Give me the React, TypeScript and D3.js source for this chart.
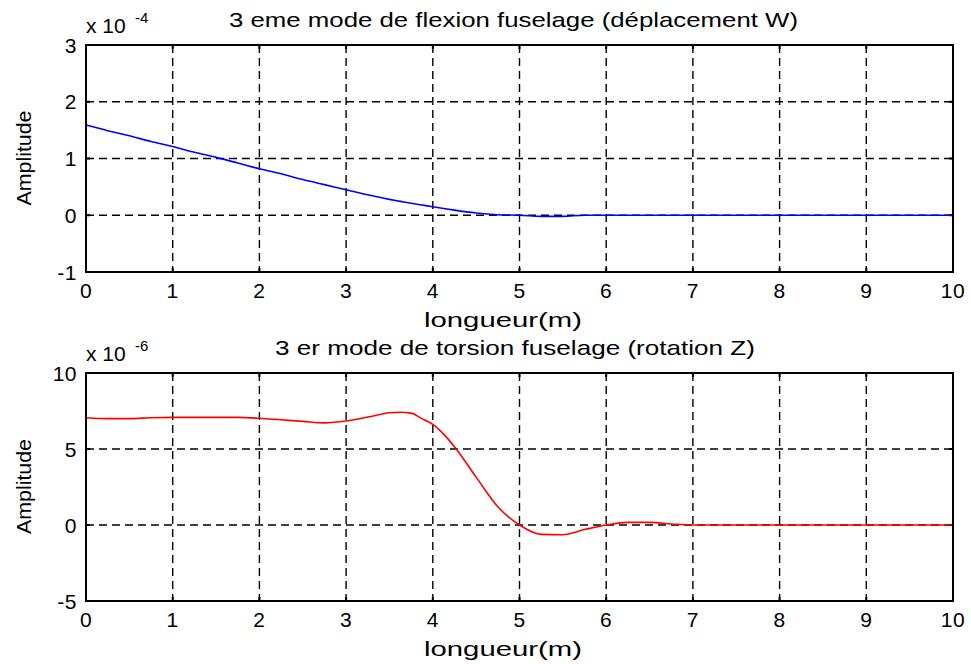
import React from "react";
import * as d3 from "d3";

const positions = [0, 0.25, 0.5, 0.75, 1, 1.25, 1.5, 1.75, 2, 2.25, 2.5, 2.75, 3, 3.25, 3.5, 3.625, 3.75, 3.875, 4, 4.125, 4.25, 4.5, 4.75, 5, 5.25, 5.5, 5.75, 6, 6.25, 6.5, 6.75, 7, 7.25, 7.5, 7.75, 8, 8.25, 8.5, 8.75, 9, 9.25, 9.5, 9.75, 10];

// displacement W (x 1e-4)
const flexion = [1.59, 1.49, 1.4, 1.3, 1.21, 1.11, 1.02, 0.92, 0.82, 0.73, 0.63, 0.54, 0.45, 0.36, 0.28, 0.245, 0.21, 0.18, 0.15, 0.12, 0.09, 0.04, 0.01, 0.0, -0.02, -0.02, 0.0, 0, 0, 0, 0, 0, 0, 0, 0, 0, 0, 0, 0, 0, 0, 0, 0, 0];

// rotation Z (x 1e-6)
const torsion = [7.06, 7.0, 7.0, 7.06, 7.08, 7.08, 7.08, 7.08, 7.02, 6.92, 6.82, 6.72, 6.84, 7.1, 7.38, 7.42, 7.36, 7.0, 6.62, 5.98, 5.15, 3.15, 1.2, 0.0, -0.62, -0.64, -0.3, 0.0, 0.17, 0.17, 0.07, 0.0, 0, 0, 0, 0, 0, 0, 0, 0, 0, 0, 0, 0];

const xTicks = [0, 1, 2, 3, 4, 5, 6, 7, 8, 9, 10];
const yTicksTop = [-1, 0, 1, 2, 3];
const yTicksBottom = [-5, 0, 5, 10];

const titleTop = "3 eme mode de flexion fuselage (déplacement W)";
const titleBottom = "3 er mode de torsion fuselage (rotation Z)";
const xLabel = "longueur(m)";
const yLabel = "Amplitude";

const FONT = "Liberation Sans, Arial, Helvetica, sans-serif";

type PanelProps = {
  top: number;
  bottom: number;
  yDomain: [number, number];
  yTicks: number[];
  values: number[];
  color: string;
  title: string;
  exponent: string;
  titleLen: number;
  titleX: number;
};

function Panel({ top, bottom, yDomain, yTicks, values, color, title, exponent, titleLen, titleX }: PanelProps) {
  const left = 86;
  const right = 953;
  const x = d3.scaleLinear().domain([0, 10]).range([left, right]);
  const y = d3.scaleLinear().domain(yDomain).range([bottom, top]);
  const line = d3
    .line<number>()
    .x((_, i) => x(positions[i]))
    .y((d) => y(d))
    .curve(d3.curveMonotoneX);
  const dash = "8,5";
  return (
    <g>
      {xTicks.slice(1, -1).map((t) => (
        <line key={"gx" + t} x1={x(t)} x2={x(t)} y1={top} y2={bottom} stroke="#000" strokeWidth={1.4} strokeDasharray={dash} />
      ))}
      {yTicks.slice(1, -1).map((t) => (
        <line key={"gy" + t} x1={left} x2={right} y1={y(t)} y2={y(t)} stroke="#000" strokeWidth={1.4} strokeDasharray={dash} />
      ))}
      {xTicks.map((t) => (
        <g key={"tx" + t}>
          <line x1={x(t)} x2={x(t)} y1={bottom} y2={bottom - 4} stroke="#000" strokeWidth={2} />
          <line x1={x(t)} x2={x(t)} y1={top} y2={top + 4} stroke="#000" strokeWidth={2} />
        </g>
      ))}
      {yTicks.map((t) => (
        <g key={"ty" + t}>
          <line x1={left} x2={left + 4} y1={y(t)} y2={y(t)} stroke="#000" strokeWidth={2} />
          <line x1={right} x2={right - 4} y1={y(t)} y2={y(t)} stroke="#000" strokeWidth={2} />
        </g>
      ))}
      <path d={line(values) || ""} fill="none" stroke={color} strokeWidth={1.6} />
      <rect x={left} y={top} width={right - left} height={bottom - top} fill="none" stroke="#000" strokeWidth={2} />
      {xTicks.map((t) => (
        <text key={"lx" + t} x={x(t)} y={bottom + 26} textAnchor="middle" fontSize={21} fontFamily={FONT} letterSpacing={0.5}>
          {t}
        </text>
      ))}
      {yTicks.map((t) => (
        <text key={"ly" + t} x={left - 9} y={y(t) + 7.5} textAnchor="end" fontSize={21} fontFamily={FONT} letterSpacing={0.5}>
          {t}
        </text>
      ))}
      <text x={left} y={top - 12} fontSize={21} fontFamily={FONT}>
        x 10
      </text>
      <text x={left + 49} y={top - 22} fontSize={15} fontFamily={FONT}>
        {exponent}
      </text>
      <text x={titleX} y={top - 18} fontSize={21} fontFamily={FONT} textLength={titleLen} lengthAdjust="spacingAndGlyphs">
        {title}
      </text>
      <text x={424} y={bottom + 55} fontSize={21} fontFamily={FONT} textLength={158} lengthAdjust="spacingAndGlyphs">
        {xLabel}
      </text>
      <text
        transform={`translate(${31},${(top + bottom) / 2 + 47}) rotate(-90)`}
        fontSize={21}
        fontFamily={FONT}
        textLength={95}
        lengthAdjust="spacingAndGlyphs"
      >
        {yLabel}
      </text>
    </g>
  );
}

export default function App() {
  return (
    <svg width={971} height={664} style={{ position: "absolute", left: 0, top: 0, background: "#fff" }}>
      <rect x={0} y={0} width={971} height={664} fill="#fff" />
      <Panel top={45} bottom={272} yDomain={[-1, 3]} yTicks={yTicksTop} values={flexion} color="#0000ff" title={titleTop} exponent="-4" titleLen={569} titleX={229} />
      <Panel top={373} bottom={601} yDomain={[-5, 10]} yTicks={yTicksBottom} values={torsion} color="#ff0000" title={titleBottom} exponent="-6" titleLen={480} titleX={275} />
    </svg>
  );
}
